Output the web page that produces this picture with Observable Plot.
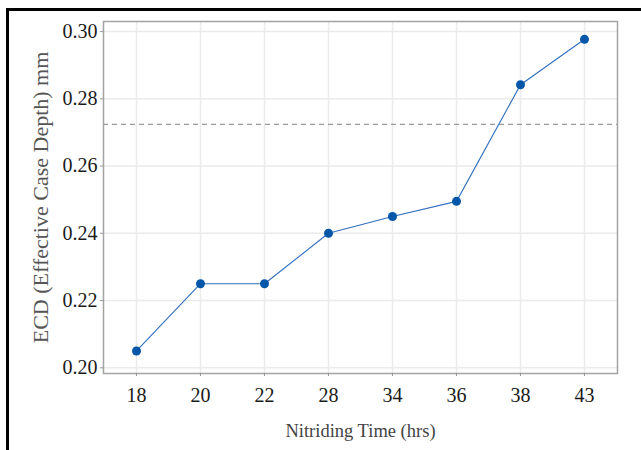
<!DOCTYPE html>
<html>
<head>
<meta charset="utf-8">
<script src="https://cdn.jsdelivr.net/npm/d3@7"></script>
<script src="https://cdn.jsdelivr.net/npm/@observablehq/plot@0.6"></script>
<style>
  html, body { margin: 0; padding: 0; background: #fff; }
  #wrap { position: relative; width: 641px; height: 450px; overflow: hidden; }
  #border { position: absolute; left: 6px; top: 8px; width: 700px; height: 500px;
            border-left: 3px solid #000; border-top: 3px solid #000; pointer-events: none; }
</style>
</head>
<body>
<div id="wrap"><div id="border"></div></div>
<script>
const times = ["18", "20", "22", "28", "34", "36", "38", "43"];
const ecd = [0.205, 0.225, 0.225, 0.240, 0.245, 0.2495, 0.2842, 0.2977];
const yTicks = [0.20, 0.22, 0.24, 0.26, 0.28, 0.30];
const threshold = [0.2724];
const xTitle = "Nitriding Time (hrs)";
const yTitle = "ECD (Effective Case Depth) mm";

const data = times.map((t, i) => ({time: t, ecd: ecd[i]}));
const font = "'Liberation Serif', 'DejaVu Serif', serif";

const chart = Plot.plot({
  width: 641,
  height: 450,
  marginLeft: 103,
  marginTop: 21,
  marginRight: 24,
  marginBottom: 77,
  style: {fontFamily: font, background: "transparent"},
  x: {type: "point", domain: times, padding: 0.5},
  y: {domain: [0.1983, 0.3030]},
  marks: [
    Plot.gridX(times, {stroke: "#ebebeb", strokeOpacity: 1, strokeWidth: 1.5}),
    Plot.gridY(yTicks, {stroke: "#ebebeb", strokeOpacity: 1, strokeWidth: 1.5}),
    Plot.ruleY(threshold, {stroke: "#9a9a9a", strokeWidth: 1.3, strokeDasharray: "5,4"}),
    Plot.line(data, {x: "time", y: "ecd", stroke: "#2f6fbf", strokeWidth: 1.1}),
    Plot.dot(data, {x: "time", y: "ecd", fill: "#0457a8", r: 4.5, stroke: "none"}),
    Plot.frame({stroke: "#a3a3a3", strokeWidth: 1.5}),
    Plot.axisX(times, {tickSize: 3, stroke: "#999", tickPadding: 11, fontSize: 20, fill: "#1a1a1a", label: null}),
    Plot.axisY(yTicks, {tickSize: 3, stroke: "#999", tickPadding: 3, fontSize: 20, fill: "#1a1a1a", tickFormat: d3.format(".2f"), label: null}),
    Plot.text([xTitle], {frameAnchor: "bottom", dy: 63, lineAnchor: "bottom", textAnchor: "middle", text: d => d, fontSize: 18.5, fill: "#444"}),
    Plot.text([yTitle], {frameAnchor: "left", dx: -63, rotate: -90, lineAnchor: "middle", textAnchor: "middle", text: d => d, fontSize: 22, fill: "#555"})
  ]
});
document.getElementById("wrap").prepend(chart);
</script>
</body>
</html>
